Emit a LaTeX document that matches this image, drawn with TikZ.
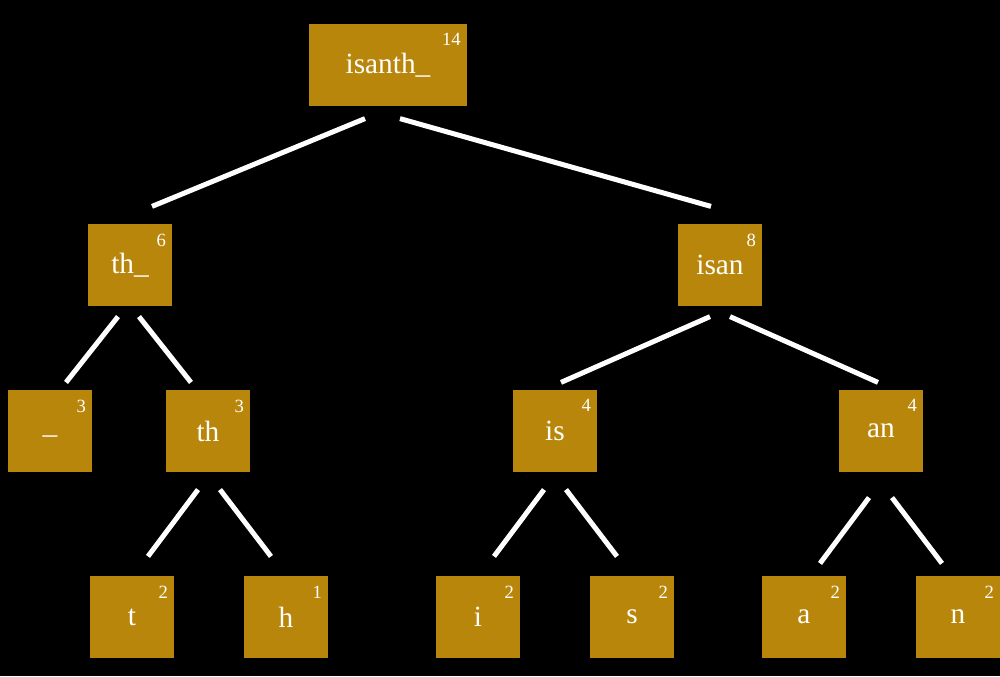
\documentclass[tikz,border=0pt]{standalone}
\usepackage{fontspec}
\setmainfont{Liberation Serif}
\usetikzlibrary{calc}
\definecolor{gold}{HTML}{B8860B}
\begin{document}
\begin{tikzpicture}[x=0.75pt,y=-0.75pt,
 box/.style={fill=gold,minimum width=63pt,minimum height=62pt,inner sep=0pt,text=white,font=\fontsize{22}{22}\selectfont},
 cnt/.style={text=white,font=\fontsize{14}{14}\selectfont,anchor=north east,inner sep=0pt},
 edge/.style={white,line width=3.75pt}]
\fill[black] (0,0) rectangle (1000,676);
\useasboundingbox (0,0) rectangle (1000,676);
\newcommand{\bx}[5]{\node[box,#5] (#1) at (#2) {#3};
 \node[cnt] (#1c) at ($(#1.north east)+(-6,10)$) {#4};}
\bx{root}{388,65}{\raisebox{-6pt}{isanth\_}}{14}{minimum width=118pt}
\bx{thu}{130,265}{\raisebox{-6pt}{th\_}}{6}{}
\bx{isan}{720,265}{\raisebox{-6pt}{isan}}{8}{}
\bx{u}{50,431}{\raisebox{-6pt}{\_}}{3}{}
\bx{th}{208,431}{\raisebox{-6pt}{th}}{3}{}
\bx{is}{555,431}{\raisebox{-6pt}{is}}{4}{}
\bx{an}{881,431}{\raisebox{-6pt}{an}}{4}{}
\bx{t}{132,617}{\raisebox{-6pt}{t}}{2}{}
\bx{h}{286,617}{\raisebox{-6pt}{h}}{1}{}
\bx{i}{478,617}{\raisebox{-6pt}{i}}{2}{}
\bx{s}{632,617}{\raisebox{-6pt}{s}}{2}{}
\bx{a}{804,617}{\raisebox{-6pt}{a}}{2}{}
\bx{n}{958,617}{\raisebox{-6pt}{n}}{2}{}
\draw[edge] ($(root.south)+(-23,12)$) -- ($(thu.north)+(22,-17)$);
\draw[edge] ($(root.south)+(12,12)$) -- ($(isan.north)+(-9,-17)$);
\draw[edge] ($(thu.south)+(-12,10)$) -- ($(u.north)+(16,-7)$);
\draw[edge] ($(thu.south)+(9,10)$) -- ($(th.north)+(-17,-7)$);
\draw[edge] ($(isan.south)+(-10,10)$) -- ($(is.north)+(6,-7)$);
\draw[edge] ($(isan.south)+(10,10)$) -- ($(an.north)+(-3,-7)$);
\draw[edge] ($(th.south)+(-10,17)$) -- ($(t.north)+(16,-19)$);
\draw[edge] ($(th.south)+(12,17)$) -- ($(h.north)+(-15,-19)$);
\draw[edge] ($(is.south)+(-11,17)$) -- ($(i.north)+(16,-19)$);
\draw[edge] ($(is.south)+(11,17)$) -- ($(s.north)+(-15,-19)$);
\draw[edge] ($(an.south)+(-12,25)$) -- ($(a.north)+(16,-12)$);
\draw[edge] ($(an.south)+(11,25)$) -- ($(n.north)+(-16,-12)$);
\end{tikzpicture}
\end{document}
